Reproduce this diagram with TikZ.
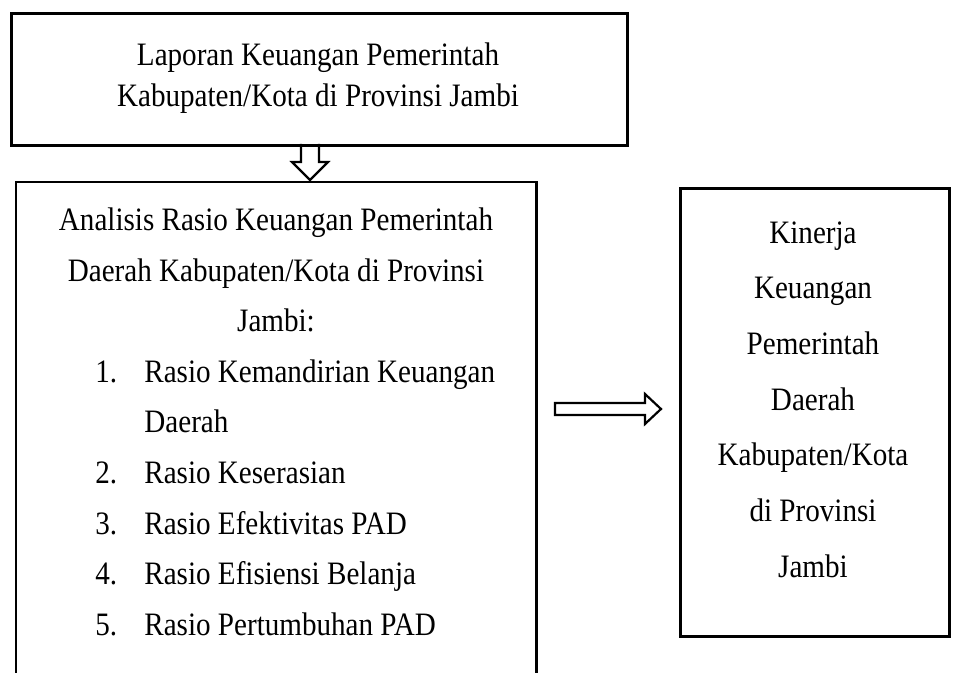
\documentclass[tikz,border=0pt]{standalone}
\usepackage{fontspec}
\setmainfont[FakeStretch=0.89]{Liberation Serif}
\usetikzlibrary{calc}
\begin{document}
\begin{tikzpicture}[x=0.5pt,y=-0.5pt,
  boxline/.style={line width=1.35pt},
  arrowline/.style={line width=1.1pt, line join=miter},
  txt/.style={inner sep=0pt, anchor=base, font=\fontsize{16.35pt}{20pt}\selectfont},
  txtl/.style={txt, anchor=base west}]
\useasboundingbox (0,0) rectangle (960,673);
% top box
\node[draw, boxline, minimum width=616*0.5pt, minimum height=132*0.5pt, anchor=north west, inner sep=0pt] (top) at (10,12) {};
\node[txt] (t1) at (318,66) {Laporan Keuangan Pemerintah};
\node[txt] (t2) at (318,107) {Kabupaten/Kota di Provinsi Jambi};
% left box (open at bottom)
\node[minimum width=520*0.5pt, minimum height=491*0.5pt, anchor=north west, inner sep=0pt] (left) at (16,182) {};
\draw[boxline] (left.south west) |- (left.north east) -- (left.south east);
\node[txt] (l1) at (276,231) {Analisis Rasio Keuangan Pemerintah};
\node[txt] (l2) at (276,282) {Daerah Kabupaten/Kota di Provinsi};
\node[txt] (l3) at (276,332) {Jambi:};
\node[txtl] (n1) at (95,383) {1.};
\node[txtl] (i1) at (144,383) {Rasio Kemandirian Keuangan};
\node[txtl] (i1b) at (144,433) {Daerah};
\node[txtl] (n2) at (95,484) {2.};
\node[txtl] (i2) at (144,484) {Rasio Keserasian};
\node[txtl] (n3) at (95,535) {3.};
\node[txtl] (i3) at (144,535) {Rasio Efektivitas PAD};
\node[txtl] (n4) at (95,585) {4.};
\node[txtl] (i4) at (144,585) {Rasio Efisiensi Belanja};
\node[txtl] (n5) at (95,636) {5.};
\node[txtl] (i5) at (144,636) {Rasio Pertumbuhan PAD};
% right box
\node[draw, boxline, minimum width=269*0.5pt, minimum height=448*0.5pt, anchor=north west, inner sep=0pt] (right) at (679,187) {};
\node[txt] (r1) at (813,244) {Kinerja};
\node[txt] (r2) at (813,299) {Keuangan};
\node[txt] (r3) at (813,355) {Pemerintah};
\node[txt] (r4) at (813,411) {Daerah};
\node[txt] (r5) at (813,466) {Kabupaten/Kota};
\node[txt] (r6) at (813,522) {di Provinsi};
\node[txt] (r7) at (813,578) {Jambi};
% down arrow
\coordinate (da) at (310,144);
\draw[arrowline] ($(da)+(-9,0)$) -- ++(0,18) -- ++(-9,0) -- (310,180) -- (328,162) -- ++(-9,0) -- ++(0,-18);
% right arrow
\coordinate (ra) at (555,409);
\draw[arrowline] ($(ra)+(0,-6)$) -- (645,403) -- (645,394) -- (661,409) -- (645,424) -- (645,415) -- ($(ra)+(0,6)$) -- cycle;
\end{tikzpicture}
\end{document}
